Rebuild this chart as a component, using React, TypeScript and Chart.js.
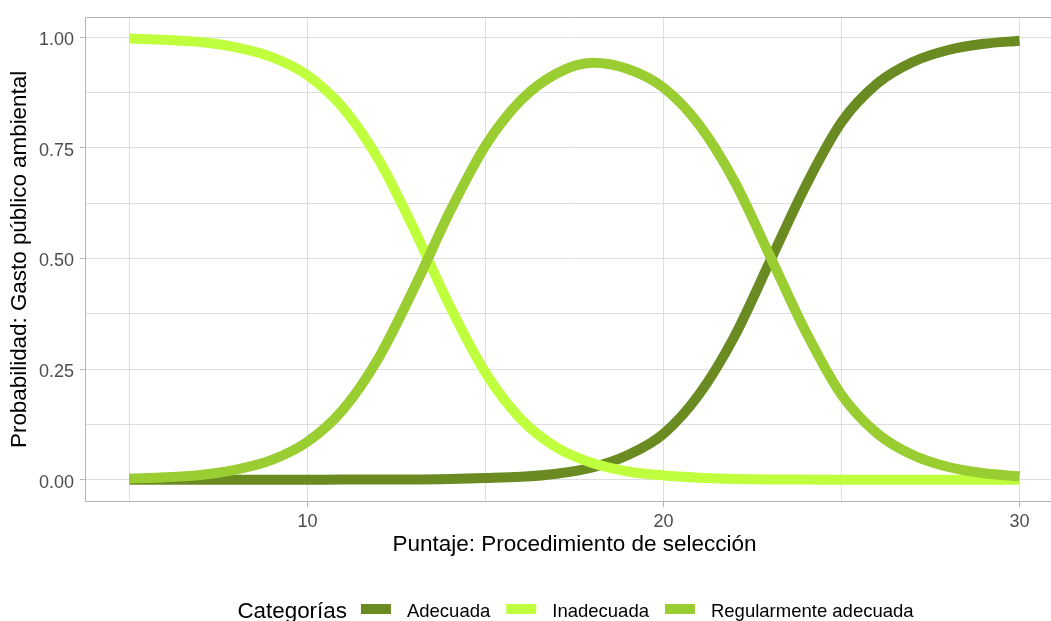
import React, { useEffect, useRef } from "react";
import { Chart, registerables } from "chart.js";

Chart.register(...registerables);

// ---- Data ----
const xValues = [5, 6, 7, 8, 9, 10, 11, 12, 13, 14, 15, 16, 17, 18, 19, 20, 21, 22, 23, 24, 25, 26, 27, 28, 29, 30];

const adecuada = [0.0, 0.0, 0.0, 0.0, 0.0, 0.0, 0.001, 0.001, 0.001, 0.002, 0.004, 0.007, 0.014, 0.028, 0.056, 0.104, 0.193, 0.325, 0.495, 0.665, 0.808, 0.895, 0.944, 0.971, 0.985, 0.992];

const inadecuada = [0.997, 0.994, 0.989, 0.977, 0.955, 0.914, 0.84, 0.723, 0.565, 0.392, 0.242, 0.137, 0.073, 0.038, 0.019, 0.01, 0.005, 0.002, 0.001, 0.001, 0.0, 0.0, 0.0, 0.0, 0.0, 0.0];

const regularmente = [0.003, 0.006, 0.011, 0.023, 0.045, 0.086, 0.159, 0.276, 0.434, 0.606, 0.755, 0.858, 0.918, 0.942, 0.928, 0.886, 0.802, 0.673, 0.504, 0.334, 0.192, 0.105, 0.056, 0.029, 0.015, 0.008];

const seriesNames = ["Adecuada", "Inadecuada", "Regularmente adecuada"];
const seriesValues = [adecuada, inadecuada, regularmente];
const seriesColors = ["#698B22", "#C0FF3E", "#9ACD32"];

const xGridValues = [5, 10, 15, 20, 25, 30];
const xTickLabels = [10, 20, 30];
const yGridValues = [0, 0.125, 0.25, 0.375, 0.5, 0.625, 0.75, 0.875, 1];
const yTickLabels = [0, 0.25, 0.5, 0.75, 1];

const legendTitle = "Categorías";
const xTitle = "Puntaje: Procedimiento de selección";
const yTitle = "Probabilidad: Gasto público ambiental";

const FONT = "'Liberation Sans', Arial, Helvetica, sans-serif";

const isIn = (arr: number[], v: number) => arr.some((a) => Math.abs(a - v) < 1e-9);

const panelBorder = {
  id: "panelBorder",
  afterDatasetsDraw(chart: any) {
    const { ctx, chartArea: a } = chart;
    ctx.save();
    ctx.strokeStyle = "#B3B3B3";
    ctx.lineWidth = 1;
    const l = Math.round(a.left) + 0.5;
    const t = Math.round(a.top) + 0.5;
    const r = Math.round(a.right) - 0.5;
    const b = Math.round(a.bottom) - 0.5;
    ctx.beginPath();
    ctx.moveTo(r, t);
    ctx.lineTo(l, t);
    ctx.lineTo(l, b);
    ctx.lineTo(r, b);
    ctx.stroke();
    ctx.restore();
  },
};

const bottomLegend = {
  id: "bottomLegend",
  afterDraw(chart: any) {
    const ctx = chart.ctx;
    const cx = 575.5;
    const textY = 612;
    const keyTop = 604;
    const keyW = 30;
    const keyH = 10;
    const gapTitle = 14;
    const gapKeyText = 16;
    const gapItem = 16;
    ctx.save();
    ctx.textBaseline = "middle";
    ctx.textAlign = "left";
    ctx.font = `22.4px ${FONT}`;
    const titleW = ctx.measureText(legendTitle).width;
    ctx.font = `18.5px ${FONT}`;
    const widths = seriesNames.map((n) => ctx.measureText(n).width);
    let total = titleW + gapTitle;
    widths.forEach((w, i) => {
      total += keyW + gapKeyText + w + (i < widths.length - 1 ? gapItem : 0);
    });
    let x = cx - total / 2;
    ctx.fillStyle = "#000000";
    ctx.font = `22.4px ${FONT}`;
    ctx.fillText(legendTitle, x, textY);
    x += titleW + gapTitle;
    ctx.font = `18.5px ${FONT}`;
    seriesNames.forEach((n, i) => {
      ctx.fillStyle = seriesColors[i];
      ctx.fillRect(x, keyTop, keyW, keyH);
      x += keyW + gapKeyText;
      ctx.fillStyle = "#000000";
      ctx.fillText(n, x, textY);
      x += widths[i] + gapItem;
    });
    ctx.restore();
  },
};

export default function App() {
  const canvasRef = useRef<HTMLCanvasElement | null>(null);

  useEffect(() => {
    const canvas = canvasRef.current;
    if (!canvas) return;
    const chart = new Chart(canvas, {
      type: "line",
      data: {
        datasets: seriesNames.map((name, i) => ({
          label: name,
          data: xValues.map((x, j) => ({ x, y: seriesValues[i][j] })),
          borderColor: seriesColors[i],
          backgroundColor: seriesColors[i],
          borderWidth: 10,
          pointRadius: 0,
          pointHoverRadius: 0,
          cubicInterpolationMode: "monotone",
          borderCapStyle: "butt",
          borderJoinStyle: "round",
          fill: false,
          order: 2 - i,
        })),
      },
      options: {
        animation: false,
        responsive: false,
        devicePixelRatio: 1,
        events: [],
        layout: { padding: { left: 0, top: 15, right: 36, bottom: 59 } },
        plugins: {
          legend: { display: false },
          tooltip: { enabled: false },
          title: { display: false },
        },
        scales: {
          x: {
            type: "linear",
            min: 3.75,
            max: 31.25,
            afterBuildTicks: (s: any) => {
              s.ticks = xGridValues.map((v) => ({ value: v }));
            },
            afterFit: (s: any) => {
              s.height = 60;
            },
            ticks: {
              autoSkip: false,
              maxRotation: 0,
              minRotation: 0,
              padding: 4,
              color: "#4D4D4D",
              font: { family: FONT, size: 18 },
              callback: (v: any) => (isIn(xTickLabels, Number(v)) ? String(v) : ""),
            },
            grid: {
              color: "#DEDEDE",
              lineWidth: 1,
              tickLength: 5,
              tickWidth: 1,
              tickColor: (c: any) => (c.tick && isIn(xTickLabels, c.tick.value) ? "#B3B3B3" : "rgba(0,0,0,0)"),
            },
            border: { display: false },
            title: {
              display: true,
              text: xTitle,
              color: "#000000",
              font: { family: FONT, size: 22.5 },
              padding: { top: 0, bottom: 3.6 },
            },
          },
          y: {
            type: "linear",
            min: -0.05,
            max: 1.046,
            afterBuildTicks: (s: any) => {
              s.ticks = yGridValues.map((v) => ({ value: v }));
            },
            afterFit: (s: any) => {
              s.width = 85;
            },
            ticks: {
              autoSkip: false,
              padding: 6,
              labelOffset: 3,
              color: "#4D4D4D",
              font: { family: FONT, size: 18 },
              callback: (v: any) => (isIn(yTickLabels, Number(v)) ? Number(v).toFixed(2) : ""),
            },
            grid: {
              color: "#DEDEDE",
              lineWidth: 1,
              tickLength: 5,
              tickWidth: 1,
              tickColor: (c: any) => (c.tick && isIn(yTickLabels, c.tick.value) ? "#B3B3B3" : "rgba(0,0,0,0)"),
            },
            border: { display: false },
            title: {
              display: true,
              text: yTitle,
              color: "#000000",
              font: { family: FONT, size: 22.4 },
              padding: { top: 6.6, bottom: 0 },
            },
          },
        },
      } as any,
      plugins: [panelBorder, bottomLegend],
    });
    return () => chart.destroy();
  }, []);

  return (
    <div
      style={{
        position: "absolute",
        left: 0,
        top: 0,
        width: 1051,
        height: 621,
        overflow: "hidden",
        background: "#ffffff",
      }}
    >
      <canvas ref={canvasRef} width={1100} height={621} style={{ display: "block", width: 1100, height: 621 }} />
    </div>
  );
}
